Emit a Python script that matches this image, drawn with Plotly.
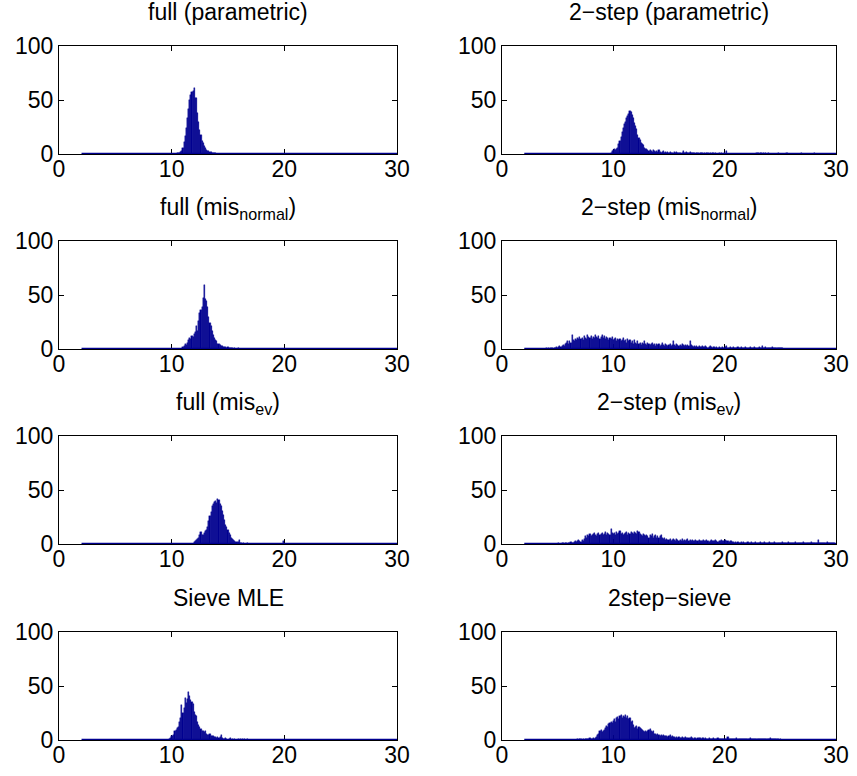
import plotly.graph_objects as go

BIN = 0.1
HIST_RANGE = [2, 30]

titles = [
    "full (parametric)", "2\u2212step (parametric)",
    "full (mis<sub>normal</sub>)", "2\u2212step (mis<sub>normal</sub>)",
    "full (mis<sub>ev</sub>)", "2\u2212step (mis<sub>ev</sub>)",
    "Sieve MLE", "2step\u2212sieve",
]

# each panel: first bin centre and counts per 0.1-wide bin
p1_start = 10.5
p1_counts = [1, 1, 1, 2, 3, 6, 11, 17, 24, 33, 42, 50, 55, 57, 58, 61, 52, 52, 38, 30,
             22, 18, 12, 10, 7, 6, 4, 3, 3, 2, 2, 1, 1, 1, 1]

p2_start = 9.8
p2_counts = [1, 3, 4, 5, 4, 5, 6, 9, 12, 16,
             20, 24, 28, 30, 33, 35, 37, 40, 39, 36,
             33, 29, 26, 23, 18, 15, 13, 10, 9, 8,
             6, 5, 5, 4, 3, 4, 3, 2, 4, 3,
             2, 3, 2, 4, 2, 1, 2, 3, 1, 2,
             1, 2, 1, 2, 1, 1, 0, 2, 1, 2,
             1, 1, 1, 0, 1, 3, 1, 1, 2, 1,
             1, 2, 1, 1, 1, 1, 0, 1, 1, 0,
             1, 1, 1, 0, 1, 0, 1, 1, 0, 1,
             0, 1, 1, 0, 1, 0, 0, 1, 0, 1,
             0, 0, 1, 0, 3, 0, 0, 0, 0, 0,
             0, 0, 0, 0, 0, 0, 0, 0, 0, 0,
             0, 0, 0, 0, 0, 0, 0, 0, 0, 0,
             0, 1, 1, 0, 1, 1, 0, 1, 0, 1,
             0, 1, 0, 0, 0, 0, 0, 0, 0, 0,
             1, 0, 0, 0, 0, 0, 0, 0, 1, 0,
             0, 0, 0, 0, 0, 0, 0, 0, 0, 0,
             0, 1, 0, 0, 0, 0, 0, 0, 0, 0,
             0, 0, 0, 1, 0, 0, 0, 0, 0, 0]

p3_start = 11.0
p3_counts = [2, 3, 5, 4, 6, 8, 10, 9, 12, 11,
             14, 16, 21, 17, 26, 33, 36, 39, 47, 59,
             46, 44, 39, 30, 24, 21, 17, 13, 10, 8,
             7, 5, 5, 4, 3, 3, 2, 2, 2, 1,
             2, 1, 1, 1, 1, 0, 1, 0, 0, 1]

p4_start = 4.0
p4_counts = [1, 0, 1, 0, 1, 1, 0, 1, 1, 2,
             1, 2, 3, 2, 3, 4, 3, 5, 6, 7,
             5, 7, 6, 13, 8, 7, 9, 8, 10, 9,
             11, 9, 10, 8, 12, 10, 9, 13, 11, 10,
             12, 9, 11, 10, 13, 11, 10, 12, 9, 11,
             13, 10, 12, 9, 11, 10, 8, 10, 9, 11,
             8, 9, 10, 7, 9, 8, 9, 7, 8, 10,
             7, 8, 6, 9, 7, 8, 6, 7, 5, 8,
             6, 5, 7, 5, 6, 4, 6, 5, 7, 5,
             4, 6, 5, 4, 5, 6, 4, 5, 3, 5,
             4, 5, 3, 4, 6, 4, 3, 5, 4, 3,
             4, 5, 3, 4, 7, 4, 3, 5, 4, 3,
             4, 3, 5, 4, 3, 4, 3, 4, 3, 7,
             4, 3, 2, 3, 2, 3, 2, 3, 2, 2,
             3, 2, 2, 3, 2, 1, 2, 3, 2, 1,
             2, 2, 1, 2, 1, 2, 1, 1, 2, 1,
             1, 2, 3, 1, 1, 2, 1, 1, 2, 1,
             1, 1, 2, 1, 1, 2, 1, 1, 1, 2,
             1, 1, 1, 2, 1, 1, 1, 2, 1, 1,
             1, 2, 1, 1, 3, 1, 1, 2, 1, 1,
             1, 1, 1, 2, 1, 1, 1, 1, 1, 1,
             1, 1, 1]

p5_start = 12.0
p5_counts = [2, 3, 4, 5, 6, 8, 11, 8, 8, 10,
             12, 13, 16, 21, 26, 30, 35, 37, 39, 40,
             38, 42, 41, 37, 35, 31, 27, 22, 18, 16,
             13, 10, 8, 6, 5, 4, 3, 2, 2, 2,
             4, 1, 1, 0, 1, 0, 0, 1, 0, 0,
             0, 0, 0, 0, 0, 0, 0, 0, 0, 0,
             0, 0, 0, 0, 0, 0, 0, 0, 0, 0,
             0, 0, 0, 0, 0, 0, 0, 0, 0, 3]

p6_start = 5.0
p6_counts = [0, 1, 0, 0, 1, 1, 0, 1, 1, 0,
             1, 1, 2, 1, 1, 2, 3, 2, 3, 4,
             3, 2, 4, 3, 5, 7, 6, 8, 7, 9,
             7, 8, 9, 10, 8, 7, 9, 10, 8, 9,
             10, 8, 9, 11, 8, 10, 9, 8, 14, 10,
             9, 10, 8, 11, 9, 10, 12, 9, 10, 8,
             9, 10, 11, 8, 10, 9, 11, 10, 9, 11,
             10, 9, 12, 11, 9, 8, 7, 9, 8, 7,
             8, 7, 6, 8, 7, 9, 6, 7, 8, 6,
             7, 6, 7, 8, 6, 5, 6, 4, 5, 4,
             4, 5, 3, 4, 5, 4, 3, 5, 4, 3,
             4, 3, 5, 3, 4, 3, 4, 5, 3, 4,
             3, 4, 3, 3, 4, 3, 3, 4, 3, 3,
             3, 4, 3, 3, 4, 3, 2, 3, 4, 3,
             3, 3, 4, 3, 2, 3, 3, 4, 3, 3,
             3, 4, 3, 3, 2, 3, 3, 2, 2, 1,
             2, 1, 2, 1, 1, 2, 1, 2, 1, 1,
             1, 2, 1, 1, 2, 1, 1, 1, 2, 1,
             1, 1, 2, 1, 1, 1, 2, 1, 1, 1,
             2, 1, 1, 1, 1, 2, 1, 1, 1, 1,
             1, 1, 2, 1, 1, 1, 1, 2, 1, 1,
             1, 1, 1, 1, 2, 1, 1, 1, 1, 1,
             1, 2, 1, 1, 1, 1, 1, 1, 2, 1,
             1, 1, 1, 1, 4, 1, 1, 1, 1, 1,
             1, 1, 2, 1, 1, 1, 1, 1, 1, 1]

p7_start = 9.8
p7_counts = [1, 2, 4, 4, 5, 8, 9, 11, 12, 17,
             20, 32, 25, 30, 39, 34, 38, 44, 41, 37,
             35, 33, 26, 23, 22, 17, 14, 12, 10, 8,
             8, 7, 8, 6, 5, 5, 6, 4, 4, 4,
             3, 3, 2, 3, 2, 3, 5, 2, 1, 1,
             2, 1, 0, 1, 2, 0, 1, 0, 1, 0,
             0, 1, 0, 1, 0, 1, 0, 1, 0, 1]

p8_start = 6.8
p8_counts = [1, 0, 1, 1, 0, 1, 0, 1, 1, 1,
             1, 2, 1, 1, 2, 1, 2, 3, 5, 6,
             8, 9, 7, 8, 9, 11, 13, 12, 15, 16,
             17, 16, 18, 19, 17, 20, 21, 19, 22, 23,
             20, 22, 21, 23, 20, 22, 19, 20, 17, 18,
             14, 11, 12, 13, 10, 12, 11, 10, 9, 8,
             7, 8, 7, 8, 9, 10, 8, 7, 8, 6,
             6, 5, 6, 5, 4, 5, 4, 5, 4, 4,
             4, 3, 4, 5, 3, 4, 3, 3, 2, 3,
             2, 3, 2, 2, 3, 2, 2, 3, 2, 2,
             2, 2, 3, 2, 1, 2, 2, 1, 2, 2,
             2, 1, 2, 2, 1, 2, 1, 1, 2, 1,
             1, 1, 2, 1, 1, 1, 2, 1, 1, 1,
             1, 1, 1, 1, 1, 3, 1, 1, 1, 1,
             1, 1, 1, 2, 1, 1, 1, 1, 1, 1,
             1, 1, 1, 1, 1, 2, 1, 1, 1, 1,
             1, 1, 1, 1, 1, 1, 1, 1, 1, 1,
             1, 1, 1, 2, 1, 1, 1, 1, 1, 1,
             1, 0, 1]

panels = [
    (p1_start, p1_counts), (p2_start, p2_counts),
    (p3_start, p3_counts), (p4_start, p4_counts),
    (p5_start, p5_counts), (p6_start, p6_counts),
    (p7_start, p7_counts), (p8_start, p8_counts),
]

W, H = 857, 776
col_px = [(59, 397), (502, 836)]
row_px = [(46, 154), (241, 349), (436, 544), (632, 740)]
BLUE = "rgb(0,0,143)"
FONT = "Liberation Sans, Arial, Helvetica, sans-serif"
FS_TICK = 23
FS_TITLE = 23

fig = go.Figure()
layout = dict(
    width=W, height=H, autosize=False,
    margin=dict(l=0, r=0, t=0, b=0, pad=0, autoexpand=False),
    paper_bgcolor="white", plot_bgcolor="white",
    showlegend=False, bargap=0, barmode="overlay", hovermode=False,
    font=dict(family=FONT, size=FS_TICK, color="black"),
)
annotations = []
for i, (start, counts) in enumerate(panels):
    r, c = divmod(i, 2)
    n = i + 1
    xa = "x" if n == 1 else f"x{n}"
    ya = "y" if n == 1 else f"y{n}"
    xs = [round(start + BIN * k, 3) for k in range(len(counts))]
    fig.add_trace(go.Scatter(x=HIST_RANGE, y=[0, 0], mode="lines",
                             line=dict(color=BLUE, width=2.5),
                             xaxis=xa, yaxis=ya, hoverinfo="skip"))
    fig.add_trace(go.Bar(x=xs, y=counts, width=BIN,
                         marker=dict(color=BLUE, line=dict(width=0.4, color=BLUE)),
                         xaxis=xa, yaxis=ya))
    x0, x1 = col_px[c]
    y0, y1 = row_px[r]
    xdom = [x0 / W, x1 / W]
    ydom = [1 - y1 / H, 1 - y0 / H]
    axis_common = dict(showline=True, linecolor="black", linewidth=1,
                       mirror="allticks", ticks="inside", ticklen=5,
                       tickcolor="black", showgrid=False, zeroline=False,
                       tickfont=dict(size=FS_TICK, family=FONT, color="black"),
                       fixedrange=True, layer="below traces", automargin=False)
    layout["xaxis" if n == 1 else f"xaxis{n}"] = dict(
        domain=xdom, range=[0, 30], tickvals=[0, 10, 20, 30],
        anchor=ya, ticklabelstandoff=-6, **axis_common)
    layout["yaxis" if n == 1 else f"yaxis{n}"] = dict(
        domain=ydom, range=[0, 100], tickvals=[0, 50, 100],
        anchor=xa, **axis_common)
    annotations.append(dict(
        text=titles[i], xref="paper", yref="paper",
        x=(xdom[0] + xdom[1]) / 2, y=ydom[1] + 49 / H,
        xanchor="center", yanchor="top", showarrow=False,
        font=dict(size=FS_TITLE, family=FONT, color="black")))

layout["annotations"] = annotations
fig.update_layout(**layout)
fig.write_html(
    "out.html",
    config={"displayModeBar": False},
    post_script="document.body.style.margin='0';"
                "document.documentElement.style.margin='0';",
)
